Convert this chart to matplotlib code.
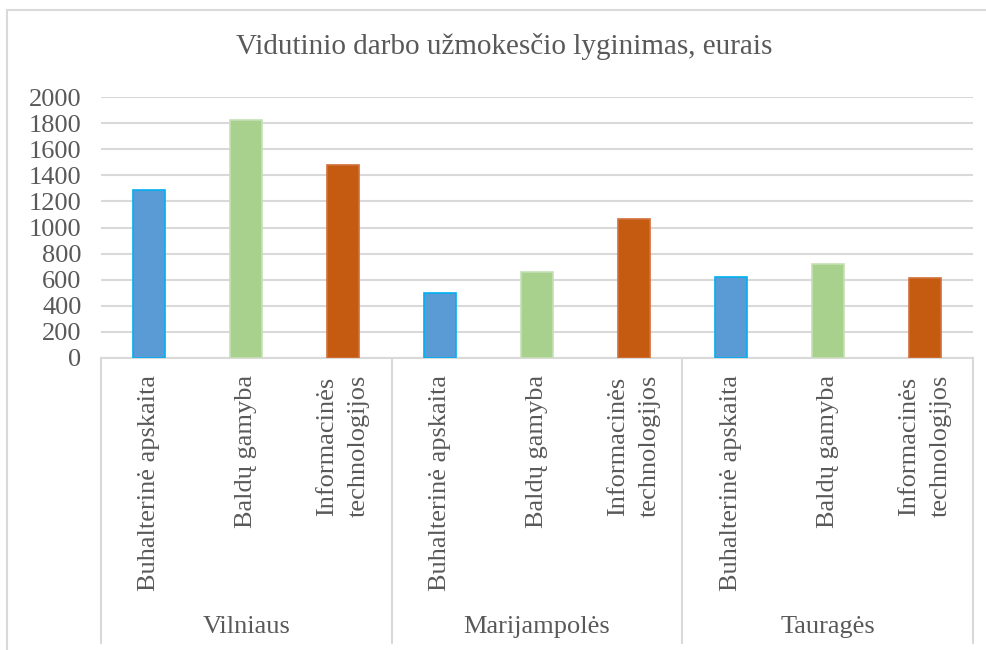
import matplotlib.pyplot as plt
from matplotlib.lines import Line2D


# duomenys
regions = ['Vilniaus', 'Marijampolės', 'Tauragės']
fields = ['Buhalterinė apskaita', 'Baldų gamyba', 'Informacinės\ntechnologijos']
wages = [
    [1285, 1820, 1480],
    [495, 660, 1063],
    [620, 720, 615],
]
bar_colors = ['#5B9BD5', '#A9D18E', '#C55A11']
edge_colors = ['#00B0F0', '#C5E0B4', '#D0703A']

W, H = 987, 650
text_color = '#595959'
grid_color = '#D9D9D9'
plt.rcParams['font.family'] = ['Liberation Serif', 'DejaVu Serif']


def fx(px):
    return px / W


def fy(py):
    return 1 - py / H


fig = plt.figure(figsize=(W / 100, H / 100), dpi=100)
ax = fig.add_axes([fx(101), fy(358), fx(973) - fx(101), fy(97) - fy(358)])

n = len(fields)
pos = 0
for r in range(len(regions)):
    for f in range(n):
        ax.bar(pos, wages[r][f], width=0.33, color=bar_colors[f],
               edgecolor=edge_colors[f], linewidth=1.2, zorder=3)
        ax.text(pos, -0.065, fields[f], transform=ax.get_xaxis_transform(),
                rotation=90, ha='center', va='top', multialignment='center',
                fontsize=19, color=text_color, linespacing=1.55)
        pos = pos + 1

ax.set_xlim(-0.5, pos - 0.5)
ax.set_ylim(0, 2000)
ax.set_yticks(range(0, 2001, 200))
ax.set_xticks([])
ax.tick_params(axis='y', length=0, labelsize=19, labelcolor=text_color, pad=14)
ax.grid(axis='y', color=grid_color, linewidth=1.5, zorder=0)
for s in ax.spines.values():
    s.set_visible(False)

# ašies linija ir grupių skirtukai
bottom = -(643 - 358) / (358 - 97)
ax.plot([-0.5, pos - 0.5], [0, 0], color=grid_color, linewidth=1.5,
        transform=ax.get_xaxis_transform(), clip_on=False, zorder=2)
for r in range(len(regions) + 1):
    ax.plot([r * n - 0.5, r * n - 0.5], [0, bottom], color=grid_color,
            linewidth=1.5, transform=ax.get_xaxis_transform(), clip_on=False)
for r in range(len(regions)):
    ax.text(r * n + (n - 1) / 2, -(627 - 358) / (358 - 97), regions[r],
            transform=ax.get_xaxis_transform(), ha='center', va='center',
            fontsize=19, color=text_color)

fig.text(fx(504), fy(47), 'Vidutinio darbo užmokesčio lyginimas, eurais',
         ha='center', va='center', fontsize=21, color=text_color)

# diagramos rėmelis
fig.add_artist(Line2D([fx(7), fx(7)], [0, fy(10)], color=grid_color, linewidth=1.5))
fig.add_artist(Line2D([fx(7), 1], [fy(10), fy(10)], color=grid_color, linewidth=1.5))

fig.savefig('out.png', dpi=100)
